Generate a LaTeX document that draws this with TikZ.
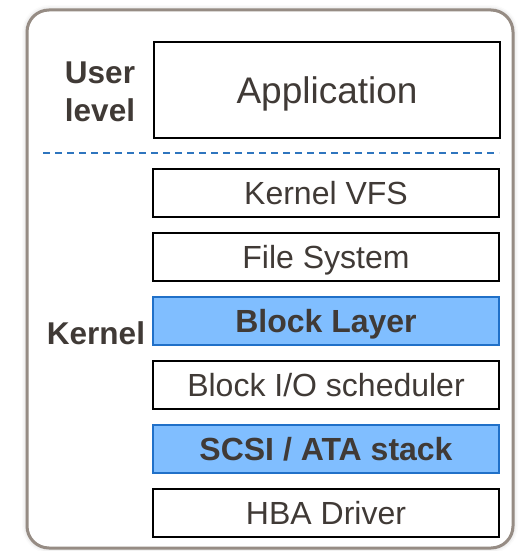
\documentclass[tikz,border=0pt]{standalone}
\usepackage{fontspec}
\setmainfont{Liberation Sans}
\usetikzlibrary{shadows.blur}

\definecolor{txtgray}{RGB}{64,58,54}
\definecolor{framegray}{RGB}{150,140,132}
\definecolor{layerblue}{RGB}{128,190,255}
\definecolor{layeredge}{RGB}{32,112,200}
\definecolor{splitblue}{RGB}{46,117,190}

\tikzset{
  layer/.style={rectangle, draw=black, line width=1.6pt, fill=white, minimum width=346pt, minimum height=48pt, inner sep=0pt, text height=23pt, text depth=0pt, text=txtgray, font=\fontsize{32}{36}\selectfont},
  hilayer/.style={layer, draw=layeredge, fill=layerblue, font=\fontsize{32}{36}\selectfont\bfseries},
  levelname/.style={text=txtgray, align=center, font=\fontsize{31.5}{38}\selectfont\bfseries},
}

\begin{document}
\begin{tikzpicture}[x=1pt, y=-1pt]
      \useasboundingbox (0, 0) rectangle (532, 551);

      % outer frame
      \draw[framegray, line width=3pt, rounded corners=22pt, fill=white, blur shadow={shadow xshift=0pt, shadow yshift=0pt, shadow blur radius=5pt, shadow opacity=25}] (27, 10) rectangle (513, 548);

      \node[layer, minimum height=96pt, text height=26.5pt, font=\fontsize{37}{40}\selectfont] (app) at (327, 90) {Application};
      \node[levelname] (user) at (100, 92) {User\\level};

      \draw[splitblue, line width=1.5pt, dash pattern=on 7pt off 5pt] (43, 153) -- (499, 153);

      \node[layer] (vfs) at (326, 193) {Kernel VFS};
      \node[layer] (fs) at (326, 257) {File System};
      \node[hilayer] (blk) at (326, 321) {Block Layer};
      \node[layer] (sched) at (326, 385) {Block I/O scheduler};
      \node[hilayer] (scsi) at (326, 449) {SCSI / ATA stack};
      \node[layer] (hba) at (326, 513) {HBA Driver};

      \node[levelname, text height=22.5pt, text depth=0pt] (kernel) at (96, 333) {Kernel};
    \end{tikzpicture}
\end{document}
